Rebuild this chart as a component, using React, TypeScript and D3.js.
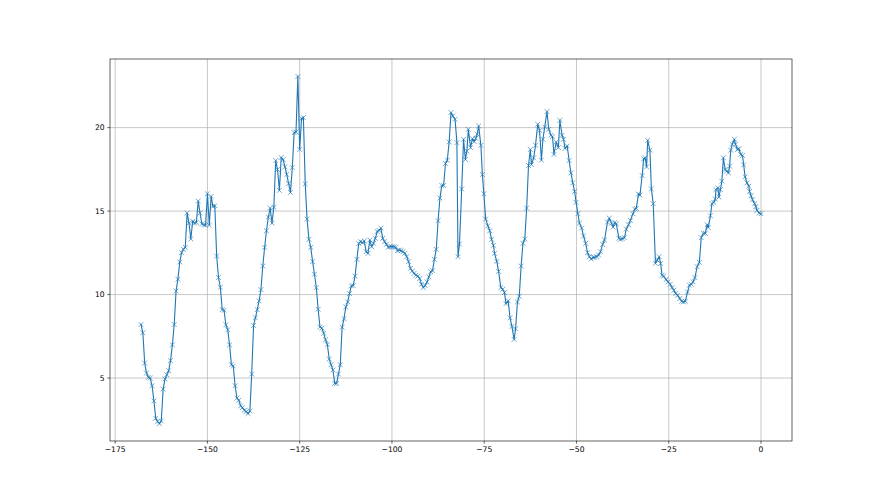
import React from 'react';
import * as d3 from 'd3';

// [hour, value] pairs
const section1: [number, number][] = [
  [-168, 8.21], [-167.5, 7.71], [-167, 5.9], [-166.5, 5.3], [-166, 5.04], [-165.5, 5.0], [-165, 4.54],
  [-164.5, 3.63], [-164, 2.59], [-163.5, 2.39], [-163, 2.27], [-162.5, 2.43], [-162, 4.34], [-161.5, 4.94],
  [-161, 5.2], [-160.5, 5.44], [-160, 6.04], [-159.5, 6.99], [-159, 8.21], [-158.5, 10.22], [-158, 10.92],
  [-157.5, 11.95], [-157, 12.51], [-156.5, 12.71], [-156, 12.83], [-155.5, 14.88], [-155, 14.28],
  [-154.5, 13.33], [-154, 14.4], [-153.5, 14.28], [-153, 14.32], [-152.5, 15.6], [-152, 14.88],
  [-151.5, 14.24], [-151, 14.18], [-150.5, 14.16], [-150, 16.04], [-149.5, 14.16], [-149, 15.88],
  [-148.5, 15.28], [-148, 15.32], [-147.5, 12.31], [-147, 11.02], [-146.5, 10.44], [-146, 9.1],
  [-145.5, 9.06], [-145, 8.19], [-144.5, 7.89], [-144, 6.99], [-143.5, 5.8], [-143, 5.72], [-142.5, 4.54],
  [-142, 3.8], [-141.5, 3.67], [-141, 3.33], [-140.5, 3.23], [-140, 3.07], [-139.5, 2.99], [-139, 2.87],
  [-138.5, 3.03], [-138, 5.24], [-137.5, 8.15], [-137, 8.61], [-136.5, 9.1], [-136, 9.62], [-135.5, 10.3],
  [-135, 11.71], [-134.5, 12.83], [-134, 13.82], [-133.5, 14.64], [-133, 15.18], [-132.5, 14.28],
  [-132, 15.24], [-131.5, 18.03], [-131, 17.49], [-130.5, 16.24], [-130, 18.21], [-129.5, 18.09],
  [-129, 17.65], [-128.5, 17.19], [-128, 16.65], [-127.5, 16.12], [-127, 17.61],
];

const section2: [number, number][] = [
  [-126.5, 19.7], [-126, 19.74], [-125.5, 23.07], [-125, 18.69], [-124.5, 20.54], [-124, 20.6],
  [-123.5, 16.63], [-123, 14.52], [-122.5, 13.31], [-122, 12.83], [-121.5, 11.97], [-121, 11.22],
  [-120.5, 10.42], [-120, 9.12], [-119.5, 8.05], [-119, 7.99], [-118.5, 7.69], [-118, 7.29], [-117.5, 7.01],
  [-117, 6.14], [-116.5, 5.8], [-116, 5.48], [-115.5, 4.68], [-115, 4.68], [-114.5, 5.24], [-114, 5.8],
  [-113.5, 8.05], [-113, 8.55], [-112.5, 9.26], [-112, 9.56], [-111.5, 10.06], [-111, 10.52],
  [-110.5, 10.54], [-110, 11.1], [-109.5, 12.11], [-109, 13.07], [-108.5, 13.17], [-108, 13.11],
  [-107.5, 13.21], [-107, 12.57], [-106.5, 12.47], [-106, 13.27], [-105.5, 12.87], [-105, 13.07],
  [-104.5, 13.37], [-104, 13.78], [-103.5, 13.84], [-103, 13.98], [-102.5, 13.37], [-102, 13.17],
  [-101.5, 13.01], [-101, 12.83], [-100.5, 12.87], [-100, 12.87], [-99.5, 12.87], [-99, 12.83],
  [-98.5, 12.63], [-98, 12.67], [-97.5, 12.63], [-97, 12.57], [-96.5, 12.47], [-96, 12.27], [-95.5, 11.97],
  [-95, 11.57], [-94.5, 11.41], [-94, 11.27], [-93.5, 11.16], [-93, 11.1], [-92.5, 10.96], [-92, 10.62],
  [-91.5, 10.42], [-91, 10.54], [-90.5, 10.76], [-90, 11.06], [-89.5, 11.37], [-89, 11.43], [-88.5, 12.11],
  [-88, 12.71], [-87.5, 14.42], [-87, 15.78], [-86.5, 16.53], [-86, 16.53], [-85.5, 17.85], [-85, 18.05],
  [-84.5, 19.14], [-84, 20.9],
];

const section3: [number, number][] = [
  [-83.5, 20.7], [-82.9, 20.5], [-82.4, 19.1], [-82.1, 12.27], [-81.7, 13.03], [-81.1, 16.33],
  [-80.6, 19.3], [-80.1, 18.09], [-79.7, 18.59], [-79.3, 19.9], [-78.7, 18.8], [-78.2, 19.34],
  [-77.7, 19.16], [-77.3, 19.36], [-76.9, 19.6], [-76.5, 20.1], [-75.9, 18.94], [-75.5, 17.19],
  [-75.1, 16.04], [-74.6, 14.52], [-74.0, 14.12], [-73.5, 13.82], [-73.0, 13.31], [-72.5, 12.95],
  [-72.2, 12.47], [-71.6, 11.99], [-71.1, 11.39], [-70.5, 10.42], [-70.0, 10.32], [-69.5, 10.12],
  [-69.1, 9.46], [-68.5, 9.62], [-68.0, 8.61], [-67.5, 8.09], [-66.9, 7.31], [-66.5, 7.95], [-66.0, 9.56],
  [-65.5, 9.9], [-65.0, 11.71], [-64.5, 13.07], [-64.0, 13.33], [-63.5, 15.18], [-63.0, 17.73],
  [-62.5, 18.69], [-62.2, 17.79], [-61.6, 18.19], [-61.1, 18.94], [-60.5, 20.2], [-60.0, 19.84],
  [-59.5, 18.05], [-59.1, 19.3], [-58.6, 20.04], [-58.0, 20.96], [-57.5, 19.9], [-56.9, 19.54],
  [-56.5, 19.46], [-56.1, 18.39], [-55.5, 19.14], [-54.9, 18.8], [-54.5, 20.44], [-53.9, 19.54],
  [-53.5, 19.3], [-53.1, 18.76], [-52.5, 18.9], [-52.0, 18.03], [-51.5, 17.29], [-51.0, 16.69],
  [-50.5, 16.18], [-50.1, 15.52], [-49.6, 14.84], [-49.2, 14.28], [-48.6, 13.98], [-48.1, 13.51],
  [-47.5, 13.07], [-47.0, 12.51], [-46.5, 12.27], [-46.0, 12.13], [-45.5, 12.23], [-45.1, 12.23],
  [-44.5, 12.27], [-44.0, 12.37], [-43.5, 12.57], [-42.9, 13.01], [-42.4, 13.27],
];

const section4: [number, number][] = [
  [-41.6, 14.34], [-41.1, 14.58], [-40.5, 14.28], [-40.1, 14.04], [-39.6, 14.32], [-39.2, 14.24],
  [-38.5, 13.37], [-38.1, 13.31], [-37.6, 13.35], [-37.0, 13.41], [-36.5, 13.92], [-35.9, 14.18],
  [-35.4, 14.44], [-34.7, 14.84], [-34.2, 15.12], [-33.8, 15.16], [-33.2, 16.02], [-32.8, 15.96],
  [-32.2, 17.13], [-31.8, 18.13], [-31.4, 18.19], [-31.0, 17.65], [-30.7, 19.24], [-30.1, 18.65],
  [-29.7, 16.33], [-29.2, 15.44], [-28.6, 11.87], [-28.1, 12.07], [-27.6, 12.27], [-27.2, 11.87],
  [-26.8, 11.16], [-26.4, 11.1], [-25.7, 10.9], [-25.2, 10.76], [-24.6, 10.62], [-24.1, 10.42],
  [-23.6, 10.26], [-23.1, 10.06], [-22.6, 9.96], [-22.0, 9.76], [-21.5, 9.6], [-21.0, 9.56], [-20.5, 9.6],
  [-19.9, 10.16], [-19.4, 10.56], [-18.9, 10.62], [-18.4, 10.76], [-17.9, 11.02], [-17.3, 11.67],
  [-16.7, 11.93], [-16.2, 13.41], [-15.6, 13.67], [-15.1, 13.67], [-14.6, 14.18], [-14.3, 14.02],
  [-13.7, 14.72], [-13.3, 15.44], [-12.8, 15.52], [-12.4, 15.72], [-12.2, 16.29], [-11.7, 16.39],
  [-11.4, 15.84], [-11.0, 16.29], [-10.6, 16.79], [-10.2, 18.19], [-9.7, 17.49], [-9.3, 17.39],
  [-8.8, 17.29], [-8.5, 17.69], [-8.2, 18.65], [-7.8, 19.0], [-7.2, 19.3], [-6.9, 19.0], [-6.4, 18.69],
  [-6.0, 18.73], [-5.5, 18.39], [-5.0, 18.33], [-4.7, 17.77], [-4.3, 17.05], [-3.8, 16.69], [-3.3, 16.49],
  [-3.1, 16.18], [-2.7, 15.92], [-2.3, 15.68], [-1.7, 15.44], [-1.4, 15.28], [-1.1, 15.04], [-0.5, 14.88],
  [0.0, 14.84],
];

const xTicks = [-175, -150, -125, -100, -75, -50, -25, 0];
const yTicks = [5, 10, 15, 20];

const series: [number, number][] = [...section1, ...section2, ...section3, ...section4];

const W = 880;
const H = 495;
const M = { left: 110, right: 792, top: 59, bottom: 441 };
const BLUE = '#1f77b4';
const FONT = '"DejaVu Sans", sans-serif';
const FS = 7.6;

const fmt = (v: number) => (v < 0 ? '\u2212' + Math.abs(v) : String(v));

export default function App() {
  const [xmin, xmax] = d3.extent(series, (d) => d[0]) as [number, number];
  const [ymin, ymax] = d3.extent(series, (d) => d[1]) as [number, number];
  const dx = (xmax - xmin) * 0.05;
  const dy = (ymax - ymin) * 0.05;
  const x = d3.scaleLinear().domain([xmin - dx, xmax + dx]).range([M.left, M.right]);
  const y = d3.scaleLinear().domain([ymin - dy, ymax + dy]).range([M.bottom, M.top]);
  const line = d3
    .line<[number, number]>()
    .x((d) => x(d[0]))
    .y((d) => y(d[1]));
  const ms = 2.4;
  const marker = `M${-ms},${-ms}L${ms},${ms}M${-ms},${ms}L${ms},${-ms}`;

  return (
    <svg
      width={W}
      height={H}
      viewBox={`0 0 ${W} ${H}`}
      style={{ position: 'absolute', left: 0, top: 0, background: '#fff' }}
    >
      <rect x={0} y={0} width={W} height={H} fill="#fff" />
      <g>
        {xTicks.map((t) => (
          <line key={'gx' + t} x1={x(t)} x2={x(t)} y1={M.top} y2={M.bottom} stroke="#b0b0b0" strokeWidth={0.7} />
        ))}
        {yTicks.map((t) => (
          <line key={'gy' + t} x1={M.left} x2={M.right} y1={y(t)} y2={y(t)} stroke="#b0b0b0" strokeWidth={0.7} />
        ))}
      </g>
      <path d={line(series) || ''} fill="none" stroke={BLUE} strokeWidth={1.1} strokeLinejoin="round" strokeLinecap="square" />
      <g>
        {series.map((d, i) => (
          <path
            key={i}
            d={marker}
            transform={`translate(${x(d[0])},${y(d[1])})`}
            stroke={BLUE}
            strokeOpacity={0.85}
            strokeWidth={0.75}
            fill="none"
          />
        ))}
      </g>
      <rect
        x={M.left}
        y={M.top}
        width={M.right - M.left}
        height={M.bottom - M.top}
        fill="none"
        stroke="#222"
        strokeWidth={0.7}
      />
      <g fontFamily={FONT} fontSize={FS} fill="#000">
        {xTicks.map((t) => (
          <g key={'tx' + t}>
            <line x1={x(t)} x2={x(t)} y1={M.bottom} y2={M.bottom + 2.67} stroke="#000" strokeWidth={0.61} />
            <text x={x(t)} y={M.bottom + 5.4 + FS * 0.76} textAnchor="middle">
              {fmt(t)}
            </text>
          </g>
        ))}
        {yTicks.map((t) => (
          <g key={'ty' + t}>
            <line x1={M.left - 2.67} x2={M.left} y1={y(t)} y2={y(t)} stroke="#000" strokeWidth={0.61} />
            <text x={M.left - 5.4} y={y(t)} dy="0.36em" textAnchor="end">
              {fmt(t)}
            </text>
          </g>
        ))}
      </g>
    </svg>
  );
}
